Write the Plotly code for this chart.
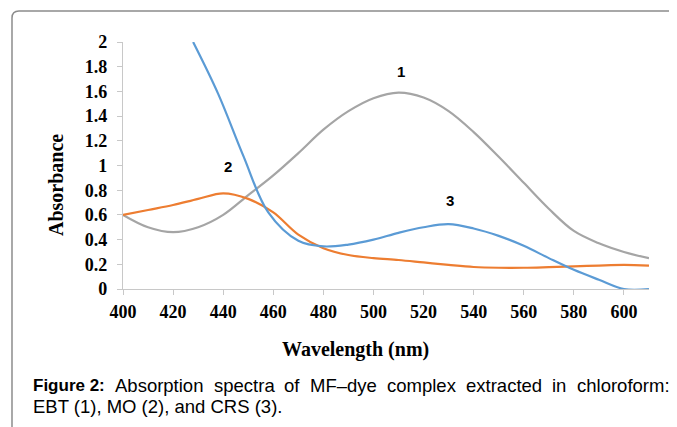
import plotly.graph_objects as go

# ---- data ----
wl_ebt = [400, 410, 420, 430, 440, 450, 460, 470, 480, 490, 500, 510, 520, 530, 540, 550, 560, 570, 580, 590, 600, 610]
abs_ebt = [0.60, 0.50, 0.46, 0.50, 0.60, 0.76, 0.92, 1.10, 1.29, 1.44, 1.545, 1.59, 1.55, 1.44, 1.27, 1.07, 0.86, 0.65, 0.47, 0.37, 0.30, 0.25]

wl_mo = [400, 410, 420, 430, 440, 450, 460, 470, 480, 490, 500, 510, 520, 530, 540, 550, 560, 570, 580, 590, 600, 610]
abs_mo = [0.60, 0.64, 0.68, 0.73, 0.775, 0.73, 0.62, 0.44, 0.33, 0.275, 0.25, 0.235, 0.215, 0.195, 0.178, 0.172, 0.172, 0.177, 0.183, 0.19, 0.195, 0.19]

wl_crs = [428, 438, 448, 458, 470, 480, 490, 500, 510, 520, 530, 540, 550, 560, 570, 580, 590, 600, 610]
abs_crs = [2.0, 1.58, 1.08, 0.62, 0.39, 0.345, 0.36, 0.40, 0.455, 0.50, 0.525, 0.49, 0.43, 0.35, 0.25, 0.155, 0.075, 0.0, 0.0]

curve_labels = ["1", "2", "3"]
label_x = [511, 442, 530.5]
label_y = [1.76, 0.99, 0.72]

x_ticks = [400, 420, 440, 460, 480, 500, 520, 540, 560, 580, 600]
y_ticks = [0, 0.2, 0.4, 0.6, 0.8, 1, 1.2, 1.4, 1.6, 1.8, 2]
y_tick_text = ["0", "0.2", "0.4", "0.6", "0.8", "1", "1.2", "1.4", "1.6", "1.8", "2"]

caption_words = ["<b>Figure 2:</b>", "Absorption", "spectra", "of", "MF–dye", "complex", "extracted", "in", "chloroform:"]
caption_line2 = "EBT (1), MO (2), and CRS (3)."

# ---- layout geometry (reference pixel coords; page body has an 8px margin) ----
OFF = 8
W, H = 677 - OFF, 427 - OFF
L, R, T, B = 123 - OFF, 28, 42 - OFF, 138
PW, PH = W - L - R, H - T - B


def px(xp):
    return (xp - OFF - L) / PW


def py(yp):
    return (H - B - (yp - OFF)) / PH


word_x = [32, 114, 212.5, 283.3, 309, 386, 465, 551, 575.7]
word_size = [17, 18.5, 18.5, 18.5, 18.5, 18.5, 18.5, 18.5, 18.5]

GRAY, ORANGE, BLUE = "#A5A5A5", "#ED7D31", "#5B9BD5"
SERIF = "Liberation Serif, Times New Roman, serif"
SANS = "Liberation Sans, Arial, sans-serif"

fig = go.Figure()
fig.add_trace(go.Scatter(x=wl_ebt, y=abs_ebt, mode="lines", line=dict(color=GRAY, width=2.2, shape="spline"), name="EBT"))
fig.add_trace(go.Scatter(x=wl_mo, y=abs_mo, mode="lines", line=dict(color=ORANGE, width=2.2, shape="spline"), name="MO"))
fig.add_trace(go.Scatter(x=wl_crs, y=abs_crs, mode="lines", line=dict(color=BLUE, width=2.2, shape="spline"), name="CRS"))

annotations = []
for t, xv, yv in zip(curve_labels, label_x, label_y):
    annotations.append(dict(x=xv, y=yv, xref="x", yref="y", text="<b>%s</b>" % t, showarrow=False,
                            xanchor="center", yanchor="middle",
                            font=dict(family=SANS, size=15, color="black")))

annotations.append(dict(x=px(355), y=py(349), xref="paper", yref="paper", text="<b>Wavelength (nm)</b>",
                        xanchor="center", yanchor="middle",
                        showarrow=False, font=dict(family=SERIF, size=20, color="black")))
annotations.append(dict(x=px(56), y=py(185), xref="paper", yref="paper", text="<b>Absorbance</b>",
                        xanchor="center", yanchor="middle",
                        textangle=-90, showarrow=False, font=dict(family=SERIF, size=20, color="black")))

for txt, xs, fs in zip(caption_words, word_x, word_size):
    annotations.append(dict(x=px(xs), y=py(385), xref="paper", yref="paper", text=txt, xanchor="left",
                            yanchor="middle", showarrow=False, borderpad=0,
                            font=dict(family=SANS, size=fs, color="black")))
annotations.append(dict(x=px(32), y=py(406), xref="paper", yref="paper", text=caption_line2, xanchor="left",
                        yanchor="middle", showarrow=False, borderpad=0,
                        font=dict(family=SANS, size=18.5, color="black")))

# frame (rounded corner at top-left, running off the right and bottom edges)
x0, y0, x1, y1, r = 12, 11, 700, 450, 7
path = "M %f,%f L %f,%f Q %f,%f %f,%f L %f,%f" % (
    px(x0), py(y1), px(x0), py(y0 + r), px(x0), py(y0), px(x0 + r), py(y0), px(x1), py(y0))
shapes = [dict(type="path", xref="paper", yref="paper", path=path, line=dict(color="#8C8C8C", width=1.5))]

fig.update_layout(
    width=W, height=H, margin=dict(l=L, r=R, t=T, b=B, pad=0),
    paper_bgcolor="white", plot_bgcolor="white", showlegend=False,
    font=dict(family=SERIF, color="black"),
    annotations=annotations, shapes=shapes,
)
fig.update_xaxes(range=[400, 610], tickvals=x_ticks, ticktext=["<b>%d</b>" % v for v in x_ticks],
                 showgrid=False, zeroline=False,
                 showline=True, linecolor="#C8C8C8", linewidth=1.2,
                 ticks="outside", ticklen=5, tickcolor="#C8C8C8", ticklabelstandoff=1,
                 tickfont=dict(family=SERIF, size=18, color="black"))
fig.update_yaxes(range=[0, 2], tickvals=y_ticks, ticktext=["<b>%s</b>" % t for t in y_tick_text],
                 showgrid=False, zeroline=False,
                 showline=True, linecolor="#C8C8C8", linewidth=1.2,
                 ticks="outside", ticklen=5, tickcolor="#C8C8C8", ticklabelstandoff=6,
                 tickfont=dict(family=SERIF, size=18, color="black"))

fig.write_html("out.html")
